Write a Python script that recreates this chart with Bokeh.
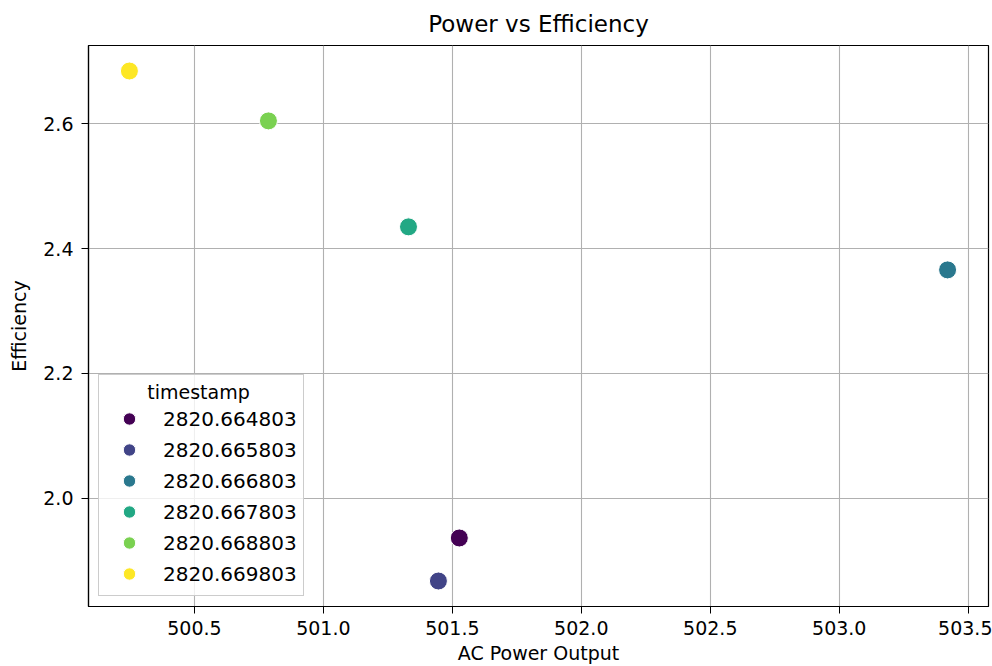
from bokeh.plotting import figure
from bokeh.models import FixedTicker, NumeralTickFormatter, Range1d, Legend, LegendItem
from bokeh.embed import file_html
from bokeh.resources import INLINE

# Data
timestamps = [2820.664803, 2820.665803, 2820.666803, 2820.667803, 2820.668803, 2820.669803]
ac_power = [501.527, 501.446, 503.42, 501.33, 500.787, 500.248]
efficiency = [1.936, 1.867, 2.366, 2.435, 2.605, 2.685]
colors = ["#440154", "#414487", "#2a788e", "#22a884", "#7ad151", "#fde725"]
x_ticks = [500.5, 501.0, 501.5, 502.0, 502.5, 503.0, 503.5]
y_ticks = [2.0, 2.2, 2.4, 2.6]

FONT = "DejaVu Sans"
FS = "19px"

xmin, xmax = min(ac_power), max(ac_power)
ymin, ymax = min(efficiency), max(efficiency)
xm = (xmax - xmin) * 0.05
ym = (ymax - ymin) * 0.05

p = figure(width=992, height=666, output_backend="svg", toolbar_location=None,
           x_range=Range1d(xmin - xm, xmax + xm), y_range=Range1d(ymin - ym, ymax + ym),
           min_border_left=88, min_border_right=4, min_border_top=44, min_border_bottom=60)

p.title.text = "Power vs Efficiency"
p.title.align = "center"
p.title.text_font = FONT
p.title.text_font_size = "23px"
p.title.text_font_style = "normal"
p.title.text_color = "#000000"
p.title.standoff = 17

p.outline_line_color = "black"
p.outline_line_width = 1.2
p.outline_line_alpha = 1

for ax in (p.xaxis, p.yaxis):
    ax.axis_label_text_font = FONT
    ax.axis_label_text_font_size = FS
    ax.axis_label_text_font_style = "normal"
    ax.axis_label_text_color = "#000000"
    ax.major_label_text_font = FONT
    ax.major_label_text_font_size = FS
    ax.major_label_text_color = "#000000"
    ax.major_tick_out = 7
    ax.major_tick_in = 0
    ax.minor_tick_out = 0
    ax.minor_tick_in = 0
    ax.axis_line_color = "black"
    ax.axis_line_width = 1.2
    ax.major_tick_line_color = "black"

p.xaxis.major_label_standoff = 7
p.yaxis.major_label_standoff = 8
p.xaxis.axis_label = "AC Power Output"
p.yaxis.axis_label = "Efficiency"
p.xaxis.ticker = FixedTicker(ticks=x_ticks)
p.yaxis.ticker = FixedTicker(ticks=y_ticks)
p.xaxis.formatter = NumeralTickFormatter(format="0.0")
p.yaxis.formatter = NumeralTickFormatter(format="0.0")
p.xaxis.axis_label_standoff = 4
p.yaxis.axis_label_standoff = 10

p.xgrid.ticker = FixedTicker(ticks=x_ticks)
p.ygrid.ticker = FixedTicker(ticks=y_ticks)
for g in (p.xgrid, p.ygrid):
    g.grid_line_color = "#b0b0b0"
    g.grid_line_width = 1.1

items = []
for t, x, y, c in zip(timestamps, ac_power, efficiency, colors):
    r = p.scatter(x=[x], y=[y], size=18, fill_color=c, line_color="white", line_width=1)
    items.append(LegendItem(label=f"{t:.6f}", renderers=[r]))

legend = Legend(items=items, location="bottom_left")
legend.title = "\u00a0" * 7 + "timestamp"
legend.title_text_font = FONT
legend.title_text_font_size = FS
legend.title_text_font_style = "normal"
legend.title_text_color = "#000000"
legend.title_standoff = 0
legend.label_text_font = FONT
legend.label_text_font_size = "20px"
legend.label_text_color = "#000000"
legend.glyph_width = 48
legend.glyph_height = 31
legend.label_height = 31
legend.spacing = 0
legend.label_standoff = 10
legend.padding = 6
legend.margin = 10
legend.border_line_color = "#cccccc"
legend.border_line_alpha = 1
legend.background_fill_alpha = 0.8
p.add_layout(legend)

open("out.html", "w").write(file_html(p, INLINE))
